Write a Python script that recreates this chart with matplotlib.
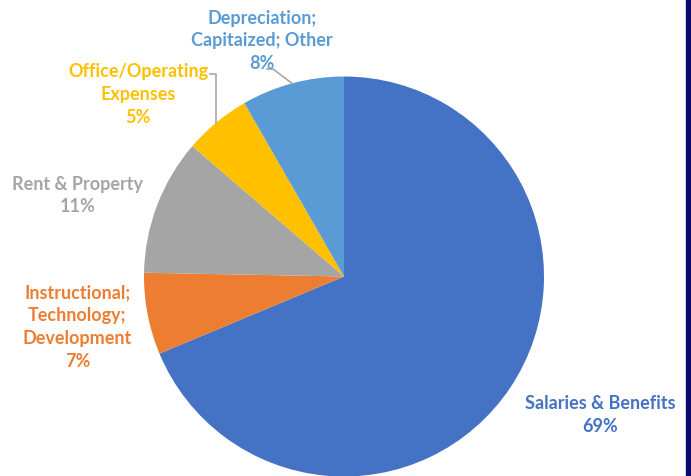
import matplotlib
matplotlib.use("Agg")
import matplotlib.pyplot as plt
from matplotlib.patches import Rectangle

categories = ["Salaries & Benefits", "Instructional;\nTechnology;\nDevelopment",
              "Rent & Property", "Office/Operating\nExpenses", "Depreciation;\nCapitaized; Other"]
values = [68.7, 6.6, 11.0, 5.4, 8.3]
colors = ["#4472C4", "#ED7D31", "#A5A5A5", "#FFC000", "#5B9BD5"]

W, H = 691, 477
CX, CY, R = 344, 277.5, 200.0

def px(x, y):
    return ((x - CX) / R, (CY - y) / R)

fig = plt.figure(figsize=(W / 100, H / 100), dpi=100)
ax = fig.add_axes([0, 0, 1, 1])
ax.pie(values, colors=colors, startangle=90, counterclock=False, radius=1.0,
       wedgeprops=dict(linewidth=0))
ax.set_xlim(px(0, 0)[0], px(W, 0)[0])
ax.set_ylim(px(0, H)[1], px(0, 0)[1])
ax.set_aspect('auto')
ax.axis('off')

# label centers (pixel positions)
label_pos = [(600, 415), (77.5, 327), (77.5, 195.5), (138, 94.5), (262, 41)]
for cat, val, col, (lx, ly) in zip(categories, values, colors, label_pos):
    x, y = px(lx, ly)
    ax.text(x, y, f"{cat}\n{round(val):d}%", ha='center', va='center', color=col,
            fontsize=13, fontweight='bold', family='Lato', linespacing=1.42)

# leader lines
lc = "#A6A6A6"
pts = [px(210, 75), px(215.7, 75), px(215.7, 124)]
ax.plot([p[0] for p in pts], [p[1] for p in pts], color=lc, lw=1.2)
pts = [px(267, 70), px(273, 70), px(292, 84.4)]
ax.plot([p[0] for p in pts], [p[1] for p in pts], color=lc, lw=1.2)

# navy border at right edge
fig.patches.append(Rectangle((686 / W, 0), 5 / W, 1, transform=fig.transFigure,
                             color="#0B0B6E", zorder=10))

fig.savefig("out.png", dpi=100)
